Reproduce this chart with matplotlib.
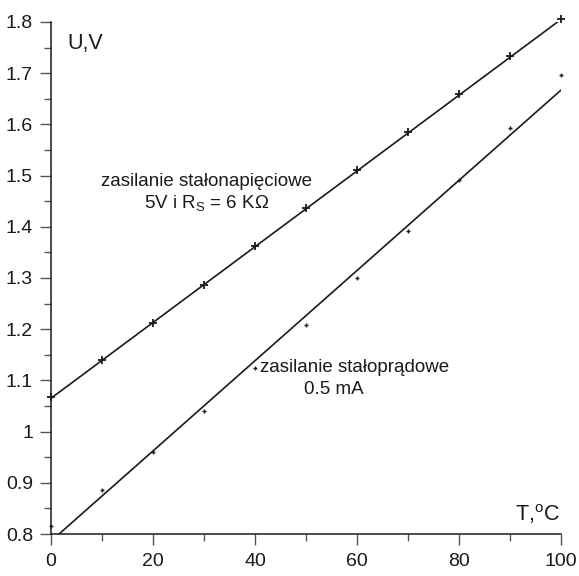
import numpy as np
import matplotlib.pyplot as plt
from matplotlib.ticker import MultipleLocator, FuncFormatter

plt.rcParams['font.family'] = ['Liberation Sans', 'DejaVu Sans']

T = [0, 10, 20, 30, 40, 50, 60, 70, 80, 90, 100]
# stałe napięcie zasilania 5V, Rs = 6 kOhm
U_nap = [1.068, 1.140, 1.212, 1.287, 1.362, 1.436, 1.510, 1.585, 1.660, 1.733, 1.806]
# stały prąd 0.5 mA
U_prad = [0.815, 0.886, 0.961, 1.040, 1.124, 1.208, 1.300, 1.392, 1.491, 1.593, 1.697]

# proste aproksymujace (wyraz wolny, nachylenie)
fit_nap = (1.065, 0.00740)
fit_prad = (0.786, 0.00881)

fig = plt.figure(figsize=(5.79, 5.76), dpi=100)
ax = fig.add_axes([0.088, 0.0729, 0.881, 0.889])

xx = np.array([0, 100])
ax.plot(xx, fit_nap[0] + fit_nap[1]*xx, color='#1a1a1a', lw=1.2)
ax.plot(xx, fit_prad[0] + fit_prad[1]*xx, color='#1a1a1a', lw=1.2)
ax.plot(T, U_nap, '+', color='#1a1a1a', ms=6, mew=1.3, clip_on=False)
ax.plot(T, U_prad, '+', color='#1a1a1a', ms=3.5, mew=1.0, clip_on=False)

ax.set_xlim(0, 100)
ax.set_ylim(0.8, 1.8)
for s in ['top', 'right']:
    ax.spines[s].set_visible(False)
for s in ['left', 'bottom']:
    ax.spines[s].set_linewidth(1.1)
    ax.spines[s].set_color('#1a1a1a')

ax.xaxis.set_major_locator(MultipleLocator(20))
ax.xaxis.set_minor_locator(MultipleLocator(10))
ax.yaxis.set_major_locator(MultipleLocator(0.1))
ax.yaxis.set_minor_locator(MultipleLocator(0.05))
ax.yaxis.set_major_formatter(FuncFormatter(lambda v, p: '%g' % round(v, 2)))
ax.tick_params(which='major', length=8, width=1, color='#555555', labelsize=14, direction='out', colors='#1a1a1a')
ax.tick_params(which='minor', length=5, width=1, color='#555555', direction='out')
ax.tick_params(axis='x', pad=6)
ax.tick_params(axis='y', pad=5)

ax.text(0.033, 0.978, 'U,V', transform=ax.transAxes, fontsize=15.5, va='top', ha='left', color='#1a1a1a')
ax.text(0.998, 0.015, 'T,$^{\\mathregular{o}}$C', transform=ax.transAxes, fontsize=15.5, va='bottom', ha='right', color='#1a1a1a')

ax.text(30.5, 1.48, 'zasilanie stałonapięciowe', fontsize=13.5, ha='center', color='#1a1a1a')
ax.text(30.5, 1.436, '5V i R$_{\\mathregular{S}}$ = 6 KΩ', fontsize=13.5, ha='center', color='#1a1a1a')
ax.text(41, 1.116, 'zasilanie stałoprądowe', fontsize=13.5, ha='left', color='#1a1a1a')
ax.text(55.5, 1.073, '0.5 mA', fontsize=13.5, ha='center', color='#1a1a1a')

fig.savefig('out.png', dpi=100)
